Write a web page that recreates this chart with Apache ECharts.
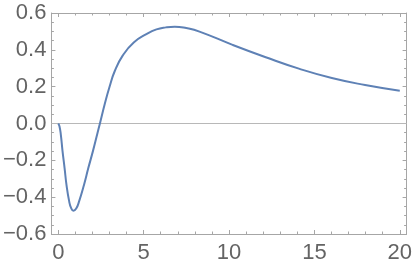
<!DOCTYPE html>
<html>
<head>
<meta charset="utf-8">
<script src="https://cdn.jsdelivr.net/npm/echarts@6/dist/echarts.min.js"></script>
<style>html,body{margin:0;padding:0;background:#fff;}#c{width:415px;height:266px;}</style>
</head>
<body>
<div id="c"></div>
<script>
var tValues = [0, 0.07, 0.15, 0.25, 0.37, 0.48, 0.64, 0.75, 0.89, 1.05, 1.22, 1.51, 1.76, 2.03, 2.28, 2.44, 2.73, 3.0, 3.31, 3.78, 4.42, 5.19, 5.75, 6.3, 6.82, 7.5, 8.27, 10.21, 12.15, 14.09, 16.02, 17.97, 20];
var yValues = [0, -0.015, -0.06, -0.15, -0.242, -0.332, -0.423, -0.458, -0.474, -0.462, -0.423, -0.332, -0.242, -0.15, -0.058, 0, 0.108, 0.198, 0.285, 0.37, 0.44, 0.487, 0.511, 0.522, 0.526, 0.518, 0.499, 0.427, 0.36, 0.298, 0.247, 0.209, 0.178];
var xMajorTicks = [0, 5, 10, 15, 20];
var xMinorTicks = [1, 2, 3, 4, 6, 7, 8, 9, 11, 12, 13, 14, 16, 17, 18, 19];
var yTicks = [-0.6, -0.4, -0.2, 0, 0.2, 0.4, 0.6];

var data = tValues.map(function (t, i) { return [t, yValues[i]]; });
var labelColor = '#646464';
var frameColor = '#a6a6a6';
var font = 'Liberation Sans';

function xAxisDef(pos, ticks, len, labels, line) {
  return {
    type: 'value', position: pos, min: -0.4, max: 20.4,
    axisLine: { show: line, onZero: false, lineStyle: { color: frameColor, width: 1 } },
    splitLine: { show: false },
    axisTick: { show: true, inside: true, length: len, customValues: ticks, lineStyle: { color: frameColor, width: 1 } },
    axisLabel: { show: labels, customValues: ticks, margin: 8, color: labelColor, fontSize: 22, fontFamily: font }
  };
}
function yAxisDef(pos, labels) {
  return {
    type: 'value', position: pos, min: -0.6, max: 0.6, interval: 0.2,
    axisLine: { show: true, onZero: false, lineStyle: { color: frameColor, width: 1 } },
    splitLine: { show: false },
    axisTick: { show: true, inside: true, length: 4, lineStyle: { color: frameColor, width: 1 } },
    minorTick: { show: true, splitNumber: 4, length: 2.5, lineStyle: { color: frameColor, width: 1 } },
    axisLabel: { show: labels, margin: 5, color: labelColor, fontSize: 22, fontFamily: font,
      formatter: function (v) { var s = (Math.round(v * 10) / 10).toFixed(1); return s.replace('-', '\u2212'); } }
  };
}

var chart = echarts.init(document.getElementById('c'), null, { renderer: 'canvas' });
chart.setOption({
  animation: false,
  grid: { left: 51, right: 7, top: 13, bottom: 32 },
  xAxis: [
    xAxisDef('bottom', xMajorTicks, 4, true, true),
    xAxisDef('bottom', xMinorTicks, 2.5, false, false),
    xAxisDef('top', xMajorTicks, 4, false, true),
    xAxisDef('top', xMinorTicks, 2.5, false, false)
  ],
  yAxis: [yAxisDef('left', true), yAxisDef('right', false)],
  series: [{
    type: 'line', data: [[-0.4, 0], [20.4, 0]], xAxisIndex: 0, yAxisIndex: 0,
    showSymbol: false, symbol: 'none', silent: true,
    lineStyle: { color: '#b8b8b8', width: 1 }
  }, {
    type: 'line', data: data, xAxisIndex: 0, yAxisIndex: 0,
    smooth: 0.5, showSymbol: false, symbol: 'none',
    lineStyle: { color: '#5E81B5', width: 2 }
  }]
});
</script>
</body>
</html>
